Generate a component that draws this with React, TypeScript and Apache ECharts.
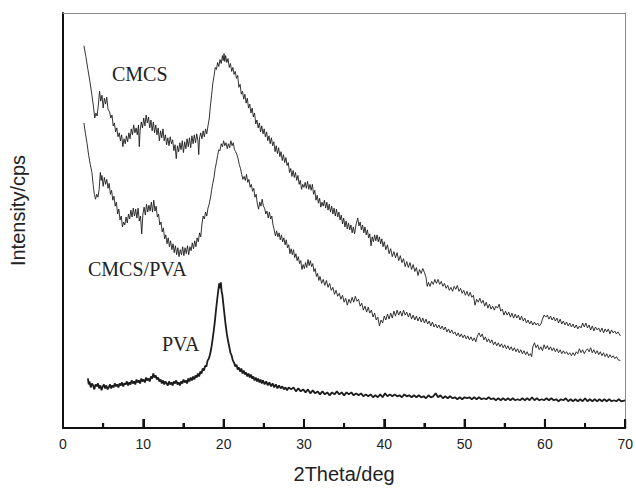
import React, { useEffect, useRef } from "react";
import * as echarts from "echarts";

// x: 2Theta (deg), y: intensity (arbitrary units, axis 0..419)
const xTicks = [0, 10, 20, 30, 40, 50, 60, 70];
const xMinorTicks = [5, 15, 25, 35, 45, 55, 65];

const cmcs: [number, number][] = [
  [2.6, 386], [2.85, 375], [3.1, 362], [3.35, 350], [3.6, 336], [3.8, 324], [3.95, 313], [4.1, 318],
  [4.25, 315], [4.4, 326], [4.55, 340], [4.7, 330], [4.85, 336], [5.0, 323], [5.15, 333], [5.3, 327],
  [5.45, 334], [5.6, 322], [5.8, 319], [5.95, 313], [6.1, 316], [6.25, 305], [6.4, 308], [6.55, 299],
  [6.7, 303], [6.85, 294], [7.0, 298], [7.15, 290], [7.3, 296], [7.45, 284], [7.6, 292], [7.75, 287],
  [7.9, 295], [8.05, 289], [8.2, 298], [8.35, 292], [8.5, 302], [8.65, 296], [8.8, 306], [8.95, 298],
  [9.1, 303], [9.25, 296], [9.4, 306], [9.5, 284], [9.6, 300], [9.75, 309], [9.9, 303], [10.05, 313],
  [10.2, 305], [10.35, 316], [10.5, 308], [10.65, 314], [10.8, 303], [10.95, 311], [11.1, 300], [11.25, 309],
  [11.4, 298], [11.55, 306], [11.7, 296], [11.85, 303], [12.0, 290], [12.15, 300], [12.3, 293], [12.45, 302],
  [12.6, 290], [12.75, 296], [12.9, 286], [13.05, 293], [13.2, 285], [13.35, 294], [13.5, 287], [13.65, 291],
  [13.8, 280], [13.95, 286], [14.1, 272], [14.25, 285], [14.4, 279], [14.55, 288], [14.7, 281], [14.85, 290],
  [15.0, 278], [15.15, 289], [15.3, 282], [15.45, 292], [15.6, 284], [15.75, 293], [15.9, 283], [16.05, 295],
  [16.2, 287], [16.35, 296], [16.5, 288], [16.65, 297], [16.8, 290], [16.9, 276], [17.0, 293], [17.15, 298],
  [17.3, 292], [17.45, 300], [17.6, 294], [17.75, 302], [17.9, 297], [18.05, 305], [18.2, 312], [18.35, 325],
  [18.5, 336], [18.65, 348], [18.8, 355], [18.95, 364], [19.1, 362], [19.25, 369], [19.4, 365], [19.55, 372],
  [19.7, 368], [19.85, 376], [19.95, 371], [20.05, 378], [20.15, 370], [20.25, 376], [20.4, 369], [20.55, 373],
  [20.7, 364], [20.85, 368], [21.0, 360], [21.15, 364], [21.3, 357], [21.45, 360], [21.6, 353], [21.75, 356],
  [21.9, 344], [22.05, 347], [22.2, 337], [22.35, 340], [22.5, 332], [22.65, 337], [22.8, 328], [22.95, 333],
  [23.1, 323], [23.25, 327], [23.4, 318], [23.55, 323], [23.7, 314], [23.85, 318], [24.0, 307], [24.15, 311],
  [24.3, 303], [24.45, 308], [24.6, 299], [24.75, 305], [24.9, 297], [25.05, 302], [25.2, 294], [25.35, 299],
  [25.5, 290], [25.65, 295], [25.8, 287], [25.95, 293], [26.1, 285], [26.25, 289], [26.4, 279], [26.55, 285],
  [26.7, 277], [26.85, 283], [27.0, 274], [27.15, 279], [27.3, 270], [27.45, 276], [27.6, 268], [27.75, 273],
  [27.9, 265], [28.05, 268], [28.2, 258], [28.35, 262], [28.5, 254], [28.65, 260], [28.8, 253], [28.95, 258],
  [29.1, 250], [29.25, 255], [29.4, 246], [29.55, 250], [29.7, 241], [29.85, 246], [30.0, 243], [30.15, 248],
  [30.3, 242], [30.45, 249], [30.6, 241], [30.75, 246], [30.9, 240], [31.05, 246], [31.2, 236], [31.35, 240],
  [31.5, 230], [31.65, 235], [31.8, 227], [31.95, 232], [32.1, 223], [32.25, 228], [32.4, 224], [32.55, 230],
  [32.7, 222], [32.85, 228], [33.0, 220], [33.15, 226], [33.3, 218], [33.45, 224], [33.6, 216], [33.75, 222],
  [33.9, 214], [34.05, 221], [34.2, 213], [34.35, 218], [34.5, 210], [34.65, 215], [34.8, 206], [34.95, 212],
  [35.1, 203], [35.25, 209], [35.4, 201], [35.55, 207], [35.7, 200], [35.85, 205], [36.0, 197], [36.15, 203],
  [36.3, 196], [36.5, 206], [36.7, 212], [36.85, 204], [37.0, 208], [37.15, 200], [37.3, 205], [37.45, 197],
  [37.6, 203], [37.75, 195], [37.9, 200], [38.05, 192], [38.2, 196], [38.35, 184], [38.5, 193], [38.65, 188],
  [38.8, 195], [38.95, 189], [39.1, 195], [39.25, 188], [39.4, 193], [39.55, 186], [39.7, 191], [39.85, 183],
  [40.0, 188], [40.2, 180], [40.4, 185], [40.6, 176], [40.8, 181], [41.0, 173], [41.2, 178], [41.4, 172],
  [41.6, 177], [41.8, 169], [42.0, 174], [42.2, 167], [42.4, 171], [42.6, 163], [42.8, 168], [43.0, 162],
  [43.2, 167], [43.4, 160], [43.6, 165], [43.8, 158], [44.0, 162], [44.2, 154], [44.4, 160], [44.6, 156],
  [44.8, 161], [45.0, 157], [45.2, 152], [45.35, 143], [45.5, 147], [45.7, 143], [45.9, 148], [46.1, 145],
  [46.3, 150], [46.5, 146], [46.7, 150], [46.9, 145], [47.1, 148], [47.3, 143], [47.5, 146], [47.7, 141],
  [47.9, 144], [48.1, 139], [48.3, 142], [48.5, 138], [48.7, 143], [48.9, 140], [49.1, 144], [49.3, 138],
  [49.5, 141], [49.7, 136], [49.9, 139], [50.1, 134], [50.3, 138], [50.5, 133], [50.7, 137], [50.9, 132],
  [51.1, 134], [51.3, 124], [51.5, 130], [51.7, 127], [51.9, 131], [52.1, 126], [52.3, 129], [52.5, 123],
  [52.7, 127], [52.9, 121], [53.1, 125], [53.3, 120], [53.5, 123], [53.7, 119], [53.9, 123], [54.1, 121],
  [54.3, 125], [54.5, 118], [54.7, 120], [54.9, 114], [55.1, 118], [55.3, 114], [55.5, 117], [55.7, 112],
  [55.9, 116], [56.1, 111], [56.3, 115], [56.5, 111], [56.7, 114], [56.9, 109], [57.1, 113], [57.3, 108],
  [57.5, 111], [57.7, 106], [57.9, 109], [58.1, 105], [58.3, 108], [58.5, 104], [58.7, 107], [58.9, 104],
  [59.1, 106], [59.3, 103], [59.5, 105], [59.7, 110], [59.9, 114], [60.1, 112], [60.3, 114], [60.5, 110],
  [60.7, 113], [60.9, 109], [61.1, 112], [61.3, 108], [61.5, 111], [61.7, 106], [61.9, 110], [62.1, 105],
  [62.3, 108], [62.5, 104], [62.7, 107], [62.9, 103], [63.1, 106], [63.3, 102], [63.5, 105], [63.7, 101],
  [63.9, 104], [64.1, 100], [64.3, 103], [64.5, 101], [64.7, 106], [64.9, 102], [65.1, 106], [65.3, 101],
  [65.5, 104], [65.7, 99], [65.9, 103], [66.1, 98], [66.3, 102], [66.5, 99], [66.7, 101], [66.9, 97],
  [67.1, 101], [67.3, 96], [67.5, 100], [67.7, 97], [67.9, 100], [68.1, 95], [68.3, 99], [68.5, 96],
  [68.7, 98], [68.9, 95], [69.1, 97], [69.4, 93],
];

const cmcsPva: [number, number][] = [
  [2.6, 308], [2.8, 297], [3.0, 287], [3.2, 275], [3.4, 266], [3.6, 258], [3.75, 246], [3.9, 236],
  [4.05, 231], [4.2, 236], [4.35, 233], [4.5, 241], [4.65, 258], [4.75, 250], [4.85, 255], [5.0, 244],
  [5.15, 253], [5.3, 246], [5.45, 251], [5.6, 242], [5.75, 247], [5.9, 236], [6.05, 240], [6.2, 230],
  [6.35, 234], [6.5, 224], [6.65, 228], [6.8, 216], [6.95, 221], [7.1, 210], [7.25, 214], [7.4, 203],
  [7.55, 208], [7.7, 205], [7.85, 213], [8.0, 207], [8.15, 216], [8.3, 211], [8.45, 220], [8.6, 213],
  [8.75, 222], [8.9, 214], [9.05, 221], [9.2, 212], [9.35, 222], [9.5, 209], [9.65, 214], [9.8, 196],
  [9.95, 216], [10.1, 223], [10.25, 215], [10.4, 226], [10.55, 218], [10.7, 225], [10.85, 219], [11.0, 228],
  [11.15, 218], [11.3, 230], [11.45, 219], [11.6, 224], [11.75, 213], [11.9, 216], [12.05, 205], [12.2, 208],
  [12.35, 198], [12.5, 202], [12.65, 191], [12.8, 195], [12.95, 186], [13.1, 192], [13.25, 183], [13.4, 189],
  [13.55, 180], [13.7, 186], [13.85, 177], [14.0, 184], [14.15, 175], [14.3, 182], [14.45, 173], [14.6, 180],
  [14.75, 175], [14.9, 183], [15.05, 174], [15.2, 182], [15.35, 176], [15.5, 184], [15.65, 175], [15.8, 183],
  [15.95, 179], [16.1, 187], [16.25, 181], [16.4, 189], [16.55, 183], [16.7, 192], [16.85, 188], [17.0, 197],
  [17.15, 193], [17.3, 206], [17.45, 214], [17.6, 211], [17.75, 218], [17.9, 214], [18.05, 222], [18.2, 226],
  [18.35, 232], [18.5, 240], [18.65, 247], [18.8, 253], [18.95, 262], [19.1, 268], [19.25, 275], [19.4, 281],
  [19.55, 280], [19.7, 287], [19.85, 284], [20.0, 290], [20.15, 285], [20.3, 288], [20.45, 282], [20.6, 287],
  [20.75, 283], [20.9, 290], [21.05, 285], [21.2, 288], [21.35, 281], [21.5, 279], [21.65, 276], [21.8, 272],
  [21.95, 266], [22.1, 262], [22.25, 256], [22.4, 251], [22.55, 254], [22.7, 250], [22.85, 256], [23.0, 248],
  [23.15, 251], [23.3, 243], [23.45, 246], [23.6, 239], [23.75, 242], [23.9, 233], [24.05, 236], [24.2, 226],
  [24.35, 221], [24.5, 228], [24.65, 224], [24.8, 231], [24.95, 224], [25.1, 222], [25.25, 216], [25.4, 219],
  [25.55, 212], [25.7, 218], [25.85, 211], [26.0, 214], [26.15, 205], [26.3, 200], [26.45, 194], [26.6, 199],
  [26.75, 193], [26.9, 197], [27.05, 190], [27.2, 195], [27.35, 188], [27.5, 192], [27.65, 185], [27.8, 190],
  [27.95, 182], [28.1, 185], [28.25, 176], [28.4, 181], [28.55, 175], [28.7, 180], [28.85, 172], [29.0, 176],
  [29.15, 169], [29.3, 173], [29.45, 166], [29.6, 169], [29.75, 160], [29.9, 165], [30.05, 161], [30.2, 167],
  [30.35, 162], [30.5, 170], [30.65, 164], [30.8, 169], [30.95, 163], [31.1, 166], [31.25, 158], [31.4, 161],
  [31.55, 153], [31.7, 156], [31.85, 149], [32.0, 153], [32.2, 146], [32.4, 150], [32.6, 144], [32.8, 149],
  [33.0, 142], [33.2, 146], [33.4, 139], [33.6, 142], [33.8, 135], [34.0, 139], [34.2, 133], [34.4, 136],
  [34.6, 130], [34.8, 134], [35.0, 127], [35.2, 131], [35.4, 124], [35.6, 130], [35.8, 126], [36.0, 132],
  [36.2, 127], [36.4, 133], [36.6, 128], [36.8, 130], [37.0, 123], [37.2, 126], [37.4, 119], [37.6, 123],
  [37.8, 117], [38.0, 122], [38.2, 116], [38.4, 119], [38.6, 112], [38.8, 116], [39.0, 109], [39.2, 112],
  [39.4, 103], [39.6, 109], [39.8, 106], [40.0, 113], [40.2, 109], [40.4, 115], [40.6, 110], [40.8, 116],
  [41.0, 111], [41.2, 118], [41.4, 113], [41.6, 119], [41.8, 114], [42.0, 118], [42.2, 113], [42.4, 119],
  [42.6, 114], [42.8, 117], [43.0, 112], [43.2, 116], [43.4, 110], [43.6, 114], [43.8, 109], [44.0, 113],
  [44.2, 108], [44.4, 112], [44.6, 107], [44.8, 111], [45.0, 106], [45.2, 110], [45.4, 105], [45.6, 108],
  [45.8, 103], [46.0, 107], [46.2, 102], [46.4, 105], [46.6, 101], [46.8, 104], [47.0, 100], [47.2, 103],
  [47.4, 99], [47.6, 102], [47.8, 97], [48.0, 100], [48.2, 96], [48.4, 99], [48.6, 95], [48.8, 97],
  [49.0, 93], [49.2, 96], [49.4, 92], [49.6, 95], [49.8, 91], [50.0, 94], [50.2, 90], [50.4, 93],
  [50.6, 89], [50.8, 92], [51.0, 88], [51.2, 91], [51.4, 87], [51.6, 93], [51.8, 96], [52.0, 92],
  [52.2, 95], [52.4, 89], [52.6, 92], [52.8, 87], [53.0, 90], [53.2, 86], [53.4, 89], [53.6, 84],
  [53.8, 87], [54.0, 83], [54.2, 86], [54.4, 82], [54.6, 85], [54.8, 81], [55.0, 84], [55.2, 80],
  [55.4, 83], [55.6, 79], [55.8, 82], [56.0, 78], [56.2, 81], [56.4, 77], [56.6, 80], [56.8, 76],
  [57.0, 79], [57.2, 75], [57.4, 78], [57.6, 74], [57.8, 77], [58.0, 73], [58.2, 75], [58.35, 72],
  [58.5, 82], [58.7, 86], [58.9, 81], [59.1, 84], [59.3, 79], [59.5, 82], [59.7, 78], [59.9, 84],
  [60.1, 80], [60.3, 83], [60.5, 79], [60.7, 82], [60.9, 78], [61.1, 81], [61.3, 77], [61.5, 80],
  [61.7, 76], [61.9, 79], [62.1, 75], [62.3, 78], [62.5, 75], [62.7, 77], [62.9, 74], [63.1, 76],
  [63.3, 73], [63.5, 76], [63.7, 73], [63.9, 77], [64.1, 75], [64.3, 80], [64.5, 76], [64.7, 79],
  [64.9, 75], [65.1, 78], [65.3, 80], [65.5, 77], [65.7, 81], [65.9, 76], [66.1, 79], [66.3, 75],
  [66.5, 78], [66.7, 74], [66.9, 77], [67.1, 73], [67.3, 76], [67.5, 72], [67.7, 75], [67.9, 71],
  [68.1, 74], [68.3, 71], [68.5, 73], [68.7, 70], [68.9, 72], [69.1, 69], [69.4, 68],
];

const pva: [number, number][] = [
  [3.1, 50], [3.2, 44], [3.3, 47], [3.45, 41], [3.6, 45], [3.75, 43], [3.9, 39], [4.05, 44],
  [4.2, 42], [4.35, 45], [4.5, 40], [4.65, 43], [4.8, 38], [4.95, 42], [5.1, 44], [5.25, 40],
  [5.4, 43], [5.55, 39], [5.7, 41], [5.85, 44], [6.0, 40], [6.15, 43], [6.3, 41], [6.45, 45],
  [6.6, 42], [6.75, 44], [6.9, 41], [7.05, 45], [7.2, 43], [7.35, 46], [7.5, 42], [7.65, 45],
  [7.8, 44], [7.95, 47], [8.1, 43], [8.25, 46], [8.4, 44], [8.55, 48], [8.7, 45], [8.85, 47],
  [9.0, 44], [9.15, 49], [9.3, 46], [9.45, 48], [9.6, 45], [9.75, 50], [9.9, 47], [10.05, 49],
  [10.2, 46], [10.35, 51], [10.5, 48], [10.65, 50], [10.8, 47], [10.95, 52], [11.1, 50], [11.25, 55],
  [11.4, 51], [11.55, 53], [11.7, 49], [11.85, 51], [12.0, 47], [12.15, 49], [12.3, 45], [12.45, 48],
  [12.6, 44], [12.75, 47], [12.9, 45], [13.05, 43], [13.2, 47], [13.35, 44], [13.5, 46], [13.65, 43],
  [13.8, 47], [13.95, 45], [14.1, 48], [14.25, 44], [14.4, 46], [14.55, 43], [14.7, 47], [14.85, 45],
  [15.0, 49], [15.15, 46], [15.3, 48], [15.45, 45], [15.6, 50], [15.75, 47], [15.9, 51], [16.05, 48],
  [16.2, 52], [16.35, 49], [16.5, 53], [16.65, 51], [16.8, 55], [16.95, 52], [17.1, 57], [17.25, 55],
  [17.4, 60], [17.55, 58], [17.7, 63], [17.85, 62], [18.0, 68], [18.15, 70], [18.3, 74], [18.45, 80],
  [18.6, 88], [18.75, 97], [18.9, 107], [19.05, 119], [19.2, 130], [19.35, 140], [19.45, 146], [19.55, 141],
  [19.65, 147], [19.75, 138], [19.85, 134], [19.95, 126], [20.1, 115], [20.25, 104], [20.4, 95], [20.55, 88],
  [20.7, 82], [20.85, 76], [21.0, 73], [21.15, 68], [21.3, 66], [21.45, 62], [21.6, 64], [21.75, 59],
  [21.9, 61], [22.05, 57], [22.2, 60], [22.35, 55], [22.5, 58], [22.65, 54], [22.8, 56], [22.95, 52],
  [23.1, 55], [23.25, 51], [23.4, 54], [23.55, 50], [23.7, 52], [23.85, 48], [24.0, 51], [24.15, 47],
  [24.3, 50], [24.45, 46], [24.6, 49], [24.75, 45], [24.9, 48], [25.1, 44], [25.3, 47], [25.5, 43],
  [25.7, 46], [25.9, 42], [26.1, 45], [26.3, 41], [26.5, 44], [26.7, 40], [26.9, 43], [27.1, 40],
  [27.3, 42], [27.5, 39], [27.7, 41], [27.9, 38], [28.1, 41], [28.4, 39], [28.7, 41], [29.0, 37],
  [29.3, 40], [29.6, 37], [29.9, 39], [30.2, 36], [30.5, 39], [30.8, 35], [31.1, 38], [31.4, 35],
  [31.7, 37], [32.0, 34], [32.3, 37], [32.6, 34], [32.9, 36], [33.2, 33], [33.5, 36], [33.8, 34],
  [34.1, 37], [34.4, 34], [34.7, 36], [35.0, 33], [35.3, 36], [35.6, 34], [35.9, 36], [36.2, 33],
  [36.5, 35], [36.8, 33], [37.1, 35], [37.4, 32], [37.7, 34], [38.0, 32], [38.3, 34], [38.6, 31],
  [38.9, 33], [39.2, 31], [39.5, 34], [39.8, 31], [40.1, 35], [40.4, 32], [40.7, 34], [41.0, 32],
  [41.3, 34], [41.6, 32], [41.9, 33], [42.2, 31], [42.5, 34], [42.8, 32], [43.1, 33], [43.4, 31],
  [43.7, 33], [44.0, 31], [44.3, 33], [44.6, 31], [44.9, 32], [45.2, 30], [45.5, 33], [45.8, 31],
  [46.1, 32], [46.4, 35], [46.7, 31], [47.0, 33], [47.3, 30], [47.6, 32], [47.9, 30], [48.2, 32],
  [48.5, 30], [48.8, 31], [49.1, 29], [49.4, 31], [49.7, 29], [50.0, 31], [50.3, 30], [50.6, 31],
  [50.9, 29], [51.2, 31], [51.5, 29], [51.8, 31], [52.1, 29], [52.4, 30], [52.7, 29], [53.0, 31],
  [53.3, 29], [53.6, 30], [53.9, 28], [54.2, 30], [54.5, 28], [54.8, 30], [55.1, 28], [55.4, 30],
  [55.7, 28], [56.0, 30], [56.3, 28], [56.6, 29], [56.9, 28], [57.2, 30], [57.5, 28], [57.8, 30],
  [58.1, 28], [58.4, 31], [58.7, 28], [59.0, 30], [59.3, 28], [59.6, 29], [59.9, 28], [60.2, 30],
  [60.5, 28], [60.8, 30], [61.1, 28], [61.4, 29], [61.7, 27], [62.0, 29], [62.3, 28], [62.6, 30],
  [62.9, 27], [63.2, 29], [63.5, 27], [63.8, 29], [64.1, 27], [64.4, 29], [64.7, 27], [65.0, 30],
  [65.3, 27], [65.6, 29], [65.9, 27], [66.2, 29], [66.5, 27], [66.8, 29], [67.1, 27], [67.4, 29],
  [67.7, 27], [68.0, 29], [68.3, 27], [68.6, 28], [68.9, 27], [69.2, 29], [69.5, 27], [70.0, 28],
];

const seriesNames = ["CMCS", "CMCS/PVA", "PVA"];

export default function App() {
  const ref = useRef<HTMLDivElement>(null);
  useEffect(() => {
    document.body.style.margin = "0";
    if (!ref.current) return;
    const chart = echarts.init(ref.current, undefined, { renderer: "svg" });
    const sans = "'Liberation Sans', Arial, Helvetica, sans-serif";
    const serif = "'Liberation Serif', 'Times New Roman', serif";
    const lineCol = "#1c1c1c";
    const xMin = xTicks[0];
    const xMax = xTicks[xTicks.length - 1];
    const labels = [
      { type: "text", left: 112, top: 64, style: { text: "CMCS", font: `20px ${serif}`, fill: "#222" } },
      { type: "text", left: 88, top: 259, style: { text: "CMCS/PVA", font: `20px ${serif}`, fill: "#222" } },
      { type: "text", left: 162, top: 334, style: { text: "PVA", font: `20px ${serif}`, fill: "#222" } },
    ];
    chart.setOption({
      animation: false,
      grid: { left: 61, right: 8, top: 13, bottom: 57 },
      xAxis: [
        {
          type: "value",
          min: xMin,
          max: xMax,
          interval: 10,
          axisLine: { show: true, onZero: false, lineStyle: { color: "#111", width: 2 } },
          axisTick: { show: true, inside: true, length: 9, lineStyle: { color: "#111", width: 2 } },
          minorTick: { show: true, splitNumber: 2, length: 5, lineStyle: { color: "#111", width: 2 } },
          splitLine: { show: false },
          axisLabel: { show: true, fontSize: 14, color: "#222", margin: 9, fontFamily: sans },
          name: "2Theta/deg",
          nameLocation: "middle",
          nameGap: 36,
          nameTextStyle: { fontSize: 20, color: "#222", fontFamily: sans },
        },
        {
          type: "value",
          position: "top",
          min: xMin,
          max: xMax,
          interval: 10,
          axisLine: { show: true, onZero: false, lineStyle: { color: "#8a8a8a", width: 1 } },
          axisTick: { show: false },
          minorTick: { show: false },
          axisLabel: { show: false },
          splitLine: { show: false },
        },
      ],
      yAxis: [
        {
          type: "value",
          min: 0,
          max: 419,
          axisLine: { show: true, onZero: false, lineStyle: { color: "#111", width: 2 } },
          axisTick: { show: false },
          axisLabel: { show: false },
          splitLine: { show: false },
          name: "Intensity/cps",
          nameLocation: "middle",
          nameGap: 35,
          nameTextStyle: { fontSize: 20, color: "#222", fontFamily: sans, padding: [0, 0, 0, 20] },
        },
        {
          type: "value",
          position: "right",
          min: 0,
          max: 419,
          axisLine: { show: true, onZero: false, lineStyle: { color: "#8a8a8a", width: 1 } },
          axisTick: { show: false },
          axisLabel: { show: false },
          splitLine: { show: false },
        },
      ],
      graphic: labels,
      series: [
        {
          name: seriesNames[0], type: "line", data: cmcs, showSymbol: false,
          xAxisIndex: 0, yAxisIndex: 0,
          lineStyle: { color: lineCol, width: 0.9 },
        },
        {
          name: seriesNames[1], type: "line", data: cmcsPva, showSymbol: false,
          xAxisIndex: 0, yAxisIndex: 0,
          lineStyle: { color: lineCol, width: 0.9 },
        },
        {
          name: seriesNames[2], type: "line", data: pva, showSymbol: false,
          xAxisIndex: 0, yAxisIndex: 0,
          lineStyle: { color: lineCol, width: 1.8 },
        },
      ],
    });
    // Tick marks placed through the axis scale (convertToPixel), drawn as graphic lines
    const tickMarks = [
      ...xTicks.map((v) => ({ v, major: true })),
      ...xMinorTicks.map((v) => ({ v, major: false })),
    ].map(({ v, major }) => {
      const p = chart.convertToPixel({ xAxisIndex: 0, yAxisIndex: 0 }, [v, 0]) as number[];
      const len = major ? 9 : 5;
      return {
        type: "line",
        z: 100,
        silent: true,
        shape: { x1: p[0], y1: p[1], x2: p[0], y2: p[1] - len },
        style: { stroke: "#111", lineWidth: 2 },
      };
    });
    chart.setOption({ graphic: [...labels, ...tickMarks] });
    return () => chart.dispose();
  }, []);
  return <div ref={ref} style={{ width: 636, height: 489 }} />;
}
